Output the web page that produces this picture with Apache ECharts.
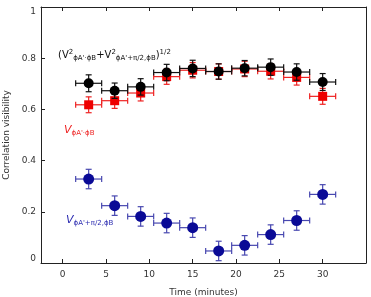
<!DOCTYPE html>
<html>
<head>
<meta charset="utf-8">
<script src="https://cdn.jsdelivr.net/npm/echarts@6/dist/echarts.min.js"></script>
<style>
  html, body { margin: 0; padding: 0; background: #fff; }
  #chart { width: 371px; height: 297px; }
</style>
</head>
<body>
<div id="chart"></div>
<script>
  // time bins (minutes)
  var times = [3, 6, 9, 12, 15, 18, 21, 24, 27, 30];
  var timeErr = 1.5;
  // quadrature sum (black)
  var sumVals = [0.702, 0.673, 0.688, 0.744, 0.760, 0.748, 0.761, 0.765, 0.746, 0.707];
  var sumErrs = [0.033, 0.030, 0.032, 0.032, 0.032, 0.030, 0.030, 0.032, 0.032, 0.033];
  // V phiA'.phiB (red)
  var redVals = [0.618, 0.634, 0.664, 0.728, 0.753, 0.748, 0.758, 0.749, 0.725, 0.651];
  var redErrs = [0.031, 0.030, 0.031, 0.030, 0.030, 0.030, 0.030, 0.030, 0.030, 0.031];
  // V phiA'+pi/2,phiB (blue)
  var blueVals = [0.328, 0.224, 0.182, 0.156, 0.138, 0.047, 0.069, 0.111, 0.166, 0.268];
  var blueErrs = [0.038, 0.038, 0.038, 0.038, 0.038, 0.038, 0.038, 0.038, 0.038, 0.038];
  var xTicks = [0, 5, 10, 15, 20, 25, 30];

  var font = 'DejaVu Sans';
  var chart = echarts.init(document.getElementById('chart'));

  function errorBars (vals, errs, color, z) {
    return {
      type: 'custom',
      z: z,
      silent: true,
      data: times.map(function (t, i) { return [t, vals[i], errs[i]]; }),
      renderItem: function (params, api) {
        var x = api.value(0), y = api.value(1), e = api.value(2);
        var l = api.coord([x - timeErr, y]);
        var r = api.coord([x + timeErr, y]);
        var t = api.coord([x, y + e]);
        var b = api.coord([x, y - e]);
        var c = 3;
        var st = { stroke: color, lineWidth: 1.2 };
        var ln = function (x1, y1, x2, y2) {
          return { type: 'line', shape: { x1: x1, y1: y1, x2: x2, y2: y2 }, style: st };
        };
        return {
          type: 'group',
          children: [
            ln(l[0], l[1], r[0], r[1]),
            ln(t[0], t[1], b[0], b[1]),
            ln(l[0], l[1] - c, l[0], l[1] + c),
            ln(r[0], r[1] - c, r[0], r[1] + c),
            ln(t[0] - c, t[1], t[0] + c, t[1]),
            ln(b[0] - c, b[1], b[0] + c, b[1])
          ]
        };
      }
    };
  }

  function points (vals, color, symbol, size, z) {
    return {
      type: 'scatter',
      z: z,
      symbol: symbol,
      symbolSize: size,
      itemStyle: { color: color, opacity: 1 },
      data: times.map(function (t, i) { return [t, vals[i]]; })
    };
  }

  var lineStyle = { color: '#222', width: 1 };
  var tickX = { show: true, inside: true, length: 4, customValues: xTicks, lineStyle: { color: '#222' } };
  var tickY = { show: true, inside: true, length: 4, lineStyle: { color: '#222' } };

  var sub = { fontSize: 7, fontFamily: font, verticalAlign: 'bottom', padding: [6, 0, 0, 0] };
  var sup = { fontSize: 7, fontFamily: font, verticalAlign: 'top', padding: [0, 0, 6, 0] };

  chart.setOption({
    animation: false,
    grid: { left: 41, right: 5, top: 7, bottom: 34, containLabel: false, outerBoundsMode: 'none' },
    xAxis: [
      {
        type: 'value', min: -2.5, max: 35,
        axisLine: { show: true, onZero: false, lineStyle: lineStyle },
        axisTick: tickX,
        splitLine: { show: false },
        name: 'Time (minutes)', nameLocation: 'middle', nameGap: 25,
        nameTextStyle: { fontFamily: font, fontSize: 9, color: '#333' },
        axisLabel: { customValues: xTicks, fontFamily: font, fontSize: 9, color: '#333', margin: 7 }
      },
      {
        type: 'value', min: -2.5, max: 35, position: 'top',
        axisLine: { show: true, onZero: false, lineStyle: lineStyle },
        axisTick: tickX,
        splitLine: { show: false },
        axisLabel: { show: false }
      }
    ],
    yAxis: [
      {
        type: 'value', min: 0, max: 1, interval: 0.2,
        axisLine: { show: true, onZero: false, lineStyle: lineStyle },
        axisTick: tickY,
        splitLine: { show: false },
        name: 'Correlation visibility', nameLocation: 'middle', nameGap: 30, nameRotate: 90,
        nameTextStyle: { fontFamily: font, fontSize: 9, color: '#333' },
        axisLabel: {
          fontFamily: font, fontSize: 9, color: '#333', margin: 5,
          verticalAlignMinLabel: 'bottom', verticalAlignMaxLabel: 'top'
        }
      },
      {
        type: 'value', min: 0, max: 1, interval: 0.2, position: 'right',
        axisLine: { show: true, onZero: false, lineStyle: lineStyle },
        axisTick: { show: false },
        splitLine: { show: false },
        axisLabel: { show: false }
      }
    ],
    series: [
      errorBars(redVals, redErrs, '#ee2222', 2),
      points(redVals, '#ee0000', 'rect', 9, 3),
      errorBars(sumVals, sumErrs, '#111111', 4),
      points(sumVals, '#000000', 'circle', 10, 5),
      errorBars(blueVals, blueErrs, '#4848b0', 2),
      points(blueVals, '#0a0a96', 'circle', 11, 3)
    ],
    graphic: [
      {
        type: 'text', left: 58, top: 49,
        style: {
          text: '(V{sup|2}{sub|ϕA\'·ϕB}+V{sup|2}{sub|ϕA\'+π/2,ϕB}){sup|1/2}',
          fontFamily: font, fontSize: 10, fill: '#111',
          rich: { sub: sub, sup: sup }
        }
      },
      {
        type: 'text', left: 64, top: 125,
        style: {
          text: '{v|V}{sub|ϕA\'·ϕB}',
          fill: '#ee2222', fontFamily: font, fontSize: 10,
          rich: { v: { fontSize: 11, fontStyle: 'italic', fontFamily: font }, sub: sub }
        }
      },
      {
        type: 'text', left: 66, top: 215,
        style: {
          text: '{v|V}{sub|ϕA\'+π/2,ϕB}',
          fill: '#2a2ab0', fontFamily: font, fontSize: 10,
          rich: { v: { fontSize: 11, fontStyle: 'italic', fontFamily: font }, sub: sub }
        }
      }
    ]
  });
</script>
</body>
</html>
